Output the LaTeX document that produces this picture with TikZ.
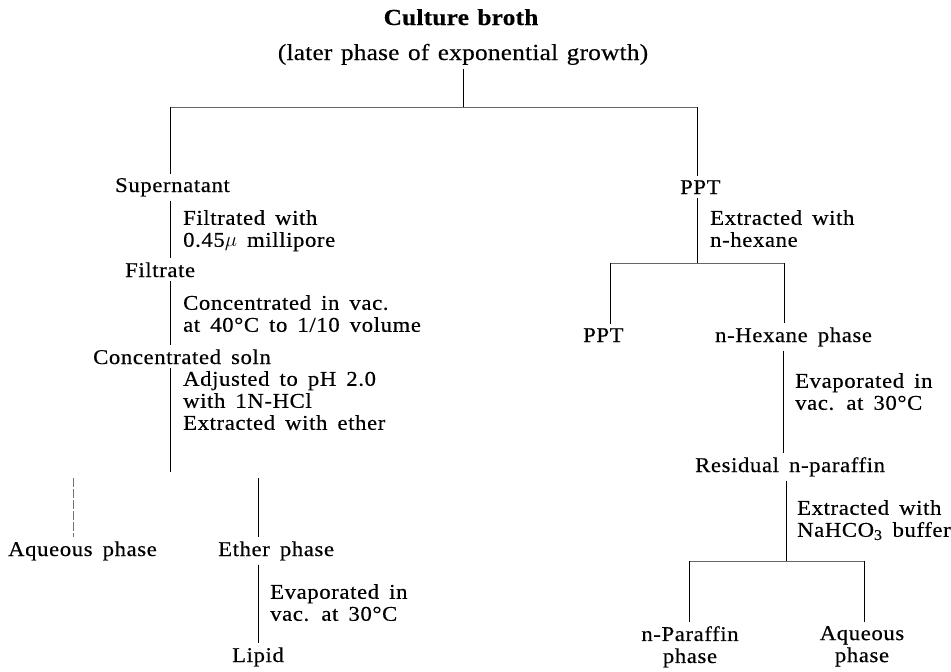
\documentclass[tikz,border=0pt]{standalone}
\usepackage{fontspec}
\setmainfont{Liberation Serif}[FakeStretch=1.08,LetterSpace=3,WordSpace=1.6,FakeBold=0.4]
\newfontfamily\titlefont{Liberation Serif}[FakeStretch=1.1,LetterSpace=1,WordSpace=1.3,FakeBold=0.4]
\begin{document}
\begin{tikzpicture}[x=1pt,y=-1pt,
  every node/.style={inner xsep=0pt,inner ysep=4pt,font=\fontsize{21}{22}\selectfont},
  item/.style={anchor=base west},
  note/.style={anchor=north west,inner sep=0pt,align=left},
  titletext/.style={anchor=base,font=\titlefont\fontsize{23}{26}\selectfont},
  link/.style={draw=black,line width=1pt},
  bar/.style={draw=black!60,line width=0.7pt},
  faint/.style={draw=black!55,line width=0.8pt,dash pattern=on 9pt off 2pt}]
\useasboundingbox[fill=white] (0,0) rectangle (951,672);

% title
\node[titletext,font=\titlefont\fontsize{23}{26}\selectfont\bfseries] (broth) at (461,25) {Culture broth};
\node[titletext] (phase) at (463,60) {(later phase of exponential growth)};

% left branch
\node[item] (sup) at (115,192) {Supernatant};
\node[note] (n1) at (183,210) {Filtrated with\\0.45$\mu$ millipore};
\node[item] (filt) at (125,277) {Filtrate};
\node[note] (n2) at (183,295) {Concentrated in vac.\\at 40°C to 1/10 volume};
\node[item] (conc) at (93,364) {Concentrated soln};
\node[note] (n3) at (183,371) {Adjusted to pH 2.0\\with 1N-HCl\\Extracted with ether};
\node[item] (aq) at (8,556) {Aqueous phase};
\node[item] (eth) at (218,556) {Ether phase};
\node[note] (n4) at (270,584) {Evaporated in\\vac. at 30°C};
\node[item] (lip) at (232,662) {Lipid};

% right branch
\node[item] (ppt1) at (680,194) {PPT};
\node[note] (n5) at (710,210) {Extracted with\\n-hexane};
\node[item] (ppt2) at (583,342) {PPT};
\node[item] (hex) at (715,342) {n-Hexane phase};
\node[note] (n6) at (795,373) {Evaporated in\\vac. at 30°C};
\node[item] (res) at (695,472) {Residual n-paraffin};
\node[note] (n7) at (797,500) {Extracted with\\NaHCO\textsubscript{3} buffer};
\node[anchor=north,align=center] (npar) at (690,622) {n-Paraffin\\phase};
\node[anchor=north,align=center] (aqr) at (862,622) {Aqueous\\phase};

% junctions
\coordinate (jT) at (463,107);
\coordinate (jL) at (170,107);
\coordinate (jR) at (697,107);
\coordinate (eC) at (170,472);
\coordinate (jA) at (73,478);
\coordinate (jE) at (258.5,478);
\coordinate (jP) at (697,263);
\coordinate (jPL) at (610,263);
\coordinate (jPR) at (784,263);
\coordinate (cH) at (783,263);
\coordinate (jN) at (786,561);
\coordinate (jNL) at (689,561);
\coordinate (jNR) at (864,561);

% connectors
\draw[link] (phase.south -| jT) -- (jT);
\draw[bar] (jL) -- (jR);
\draw[link] (jL) -- (jL |- sup.north);
\draw[link] (sup.south -| jL) -- (jL |- filt.north);
\draw[link] (filt.south -| jL) -- (jL |- conc.north);
\draw[link] (conc.south -| jL) -- (eC);
\draw[faint] (jA) -- (jA |- aq.north);
\draw[link] (jE) -- (jE |- eth.north);
\draw[link] (eth.south -| jE) -- (jE |- lip.north);
\draw[link] (jR) -- (jR |- ppt1.north);
\draw[link] (ppt1.south -| jP) -- (jP);
\draw[bar] (jPL) -- (jPR);
\draw[link] (jPL) -- (jPL |- ppt2.north);
\draw[link] (jPR) -- (jPR |- hex.north);
\draw[link] (hex.south -| cH) -- (cH |- res.north);
\draw[link] (res.south -| jN) -- (jN);
\draw[bar] (jNL) -- (jNR);
\draw[link] (jNL) -- (jNL |- npar.north);
\draw[link] (jNR) -- (jNR |- aqr.north);
\end{tikzpicture}
\end{document}
